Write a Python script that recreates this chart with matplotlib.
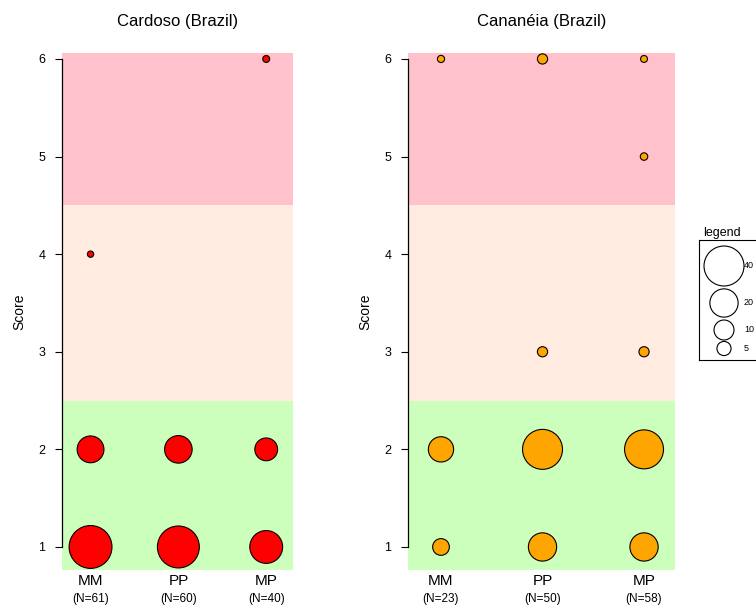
import matplotlib
matplotlib.use("Agg")
import matplotlib.pyplot as plt

plt.rcParams['font.family'] = ['Liberation Sans', 'DejaVu Sans']

# categories and sample sizes
categories = ['MM', 'PP', 'MP']
cardoso_n = [61, 60, 40]
cananeia_n = [23, 50, 58]

# bubbles: category index, score, bubble size
cardoso_cat = [0, 0, 0, 1, 1, 2, 2, 2]
cardoso_score = [1, 2, 4, 1, 2, 1, 2, 6]
cardoso_size = [46, 18, 1, 44, 19, 27, 13, 1.2]

cananeia_cat = [0, 0, 0, 1, 1, 1, 1, 2, 2, 2, 2, 2]
cananeia_score = [1, 2, 6, 1, 2, 3, 6, 1, 2, 3, 5, 6]
cananeia_size = [7, 16, 1.3, 20, 40, 2.6, 2.6, 20, 38, 2.6, 1.4, 1.2]

legend_values = [40, 20, 10, 5]

# score bands
bands = [(0.0, 2.5, '#ccffbb'), (2.5, 4.5, '#ffebdf'), (4.5, 7.0, '#ffc1cb')]

# diameter in px ~ 6.32 * sqrt(size)  ->  marker area in pt^2
def marker_area(v):
    return (6.32 * 0.72) ** 2 * v


def draw_panel(ax, title, cats, scores, sizes, ns, color):
    for lo, hi, c in bands:
        ax.axhspan(lo, hi, color=c, lw=0, zorder=0)
    ax.scatter([c + 1 for c in cats], scores,
               s=[marker_area(v) for v in sizes],
               c=color, edgecolors='black', linewidths=0.8, zorder=3)
    ax.set_xlim(0.675, 3.305)
    ax.set_ylim(0.764, 6.061)
    for side in ['top', 'right', 'bottom']:
        ax.spines[side].set_visible(False)
    ax.spines['left'].set_bounds(1, 6)
    ax.spines['left'].set_linewidth(0.9)
    ax.set_yticks(range(1, 7))
    ax.tick_params(axis='y', length=5, width=0.8, pad=7, labelsize=9)
    ax.set_xticks([])
    ax.set_ylabel('Score', fontsize=10, labelpad=9)
    for i, (cat, n) in enumerate(zip(categories, ns)):
        ax.annotate(cat, xy=(i + 1, 0), xycoords=ax.get_xaxis_transform(),
                    xytext=(0, -8), textcoords='offset points',
                    ha='center', va='center', fontsize=11)
        ax.annotate(f'(N={n})', xy=(i + 1, 0), xycoords=ax.get_xaxis_transform(),
                    xytext=(0, -21), textcoords='offset points',
                    ha='center', va='center', fontsize=8.5)
    ax.text(0.5, 1.061, title, transform=ax.transAxes,
            ha='center', va='center', fontsize=12)


fig = plt.figure(figsize=(7.56, 6.07), dpi=100)
W, H = 756, 607

ax1 = fig.add_axes([62 / W, 1 - 570 / H, 231 / W, 517 / H])
draw_panel(ax1, 'Cardoso (Brazil)', cardoso_cat, cardoso_score,
           cardoso_size, cardoso_n, '#ff0000')

ax2 = fig.add_axes([408 / W, 1 - 570 / H, 267 / W, 517 / H])
draw_panel(ax2, 'Cananéia (Brazil)', cananeia_cat, cananeia_score,
           cananeia_size, cananeia_n, '#ffa500')

# size legend, in pixel-like coords, partly cut by the figure edge
lax = fig.add_axes([699 / W, 1 - 360 / H, 80 / W, 120 / H])
lax.set_xlim(0, 80)
lax.set_ylim(120, 0)
lax.set_xticks([])
lax.set_yticks([])
for sp in lax.spines.values():
    sp.set_linewidth(0.8)
lax.set_facecolor('white')
centres = [26, 63, 90, 108.5]
lax.scatter([25] * len(legend_values), centres,
            s=[marker_area(v) for v in legend_values],
            facecolors='white', edgecolors='black', linewidths=0.8, clip_on=False)
for v, yc in zip(legend_values, centres):
    lax.text(45, yc, str(v), fontsize=6.5, va='center', ha='left')
lax.text(23, -1, 'legend', fontsize=9, ha='center', va='bottom')

fig.savefig('out.png', dpi=100)
